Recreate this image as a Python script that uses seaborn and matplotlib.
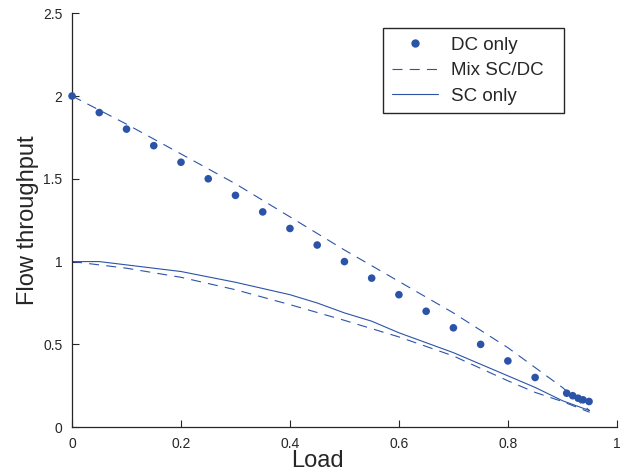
import matplotlib
matplotlib.use('Agg')
import matplotlib.pyplot as plt
import pandas as pd
import seaborn as sns
from matplotlib.lines import Line2D

# DC only (dots)
dc_load = [0.0, 0.05, 0.1, 0.15, 0.2, 0.25, 0.3, 0.35, 0.4, 0.45, 0.5, 0.55,
           0.6, 0.65, 0.7, 0.75, 0.8, 0.85, 0.908, 0.919, 0.929, 0.938, 0.949]
dc_flow = [2.0, 1.9, 1.8, 1.7, 1.6, 1.5, 1.4, 1.3, 1.2, 1.1, 1.0, 0.9,
           0.8, 0.7, 0.6, 0.5, 0.4, 0.3, 0.205, 0.19, 0.175, 0.165, 0.155]

# Mix SC/DC (dashed) - upper and lower curves
mix_load = [0.0, 0.1, 0.2, 0.3, 0.4, 0.5, 0.6, 0.7, 0.8, 0.85, 0.9, 0.95]
mix_upper = [2.0, 1.83, 1.65, 1.47, 1.27, 1.07, 0.88, 0.69, 0.48, 0.36, 0.24, 0.10]
mix_lower = [1.0, 0.96, 0.905, 0.83, 0.74, 0.645, 0.545, 0.43, 0.28, 0.21, 0.155, 0.09]

# SC only (solid)
sc_load = [0.0, 0.05, 0.1, 0.2, 0.3, 0.4, 0.45, 0.5, 0.55, 0.6, 0.7, 0.8, 0.85, 0.9, 0.95]
sc_flow = [1.0, 1.0, 0.98, 0.94, 0.875, 0.80, 0.75, 0.69, 0.64, 0.57, 0.45, 0.31, 0.24, 0.16, 0.10]

x_ticks = [0, 0.2, 0.4, 0.6, 0.8, 1]
x_labels = ['0', '0.2', '0.4', '0.6', '0.8', '1']
y_ticks = [0, 0.5, 1, 1.5, 2, 2.5]
y_labels = ['0', '0.5', '1', '1.5', '2', '2.5']

blue = '#2b54a8'

sns.set_style('ticks')
plt.rcParams['font.family'] = ['Liberation Sans', 'DejaVu Sans']

fig = plt.figure(figsize=(6.32, 4.72), dpi=100)
ax = fig.add_axes([0.114, 0.095, 0.862, 0.877])

dc = pd.DataFrame({'load': dc_load, 'flow': dc_flow})
sns.scatterplot(data=dc, x='load', y='flow', ax=ax, color=blue, s=30,
                edgecolor='none', clip_on=False, zorder=3)

for ys in (mix_upper, mix_lower):
    d = pd.DataFrame({'load': mix_load, 'flow': ys})
    sns.lineplot(data=d, x='load', y='flow', ax=ax, color=blue, lw=0.8,
                 estimator=None, sort=False)
    ax.lines[-1].set_dashes((9, 6.5))

sc = pd.DataFrame({'load': sc_load, 'flow': sc_flow})
sns.lineplot(data=sc, x='load', y='flow', ax=ax, color=blue, lw=0.8,
             estimator=None, sort=False)

ax.set_xlim(0, 1)
ax.set_ylim(0, 2.5)
ax.set_xticks(x_ticks)
ax.set_xticklabels(x_labels)
ax.set_yticks(y_ticks)
ax.set_yticklabels(y_labels)
ax.tick_params(direction='in', length=5, width=0.8, labelsize=10,
               colors='#262626')
ax.tick_params(axis='y', pad=7)
ax.tick_params(axis='x', pad=7)
for side in ['left', 'bottom']:
    ax.spines[side].set_color('#262626')
    ax.spines[side].set_linewidth(0.9)
sns.despine(ax=ax)

ax.set_xlabel('Load', fontsize=17, color='#262626')
ax.xaxis.set_label_coords(0.45, -0.055, transform=ax.transAxes)
ax.xaxis.label.set_verticalalignment('top')
ax.set_ylabel('Flow throughput', fontsize=17, color='#262626', labelpad=3)

handles = [
    Line2D([], [], color=blue, marker='o', markersize=5, linestyle='none'),
    Line2D([], [], color=blue, lw=0.8, dashes=(9, 6.5)),
    Line2D([], [], color=blue, lw=0.8),
]
leg = ax.legend(handles, ['DC only', 'Mix SC/DC', 'SC only'],
                loc='upper left', bbox_to_anchor=(0.571, 0.756, 0.332, 0.208),
                mode='expand', fontsize=13.5, handlelength=2.5,
                handletextpad=0.65, borderaxespad=0, borderpad=0.45,
                labelspacing=0.45, fancybox=False, framealpha=1,
                edgecolor='#262626')
leg.get_frame().set_linewidth(1.0)

fig.savefig('out.png', dpi=100)
